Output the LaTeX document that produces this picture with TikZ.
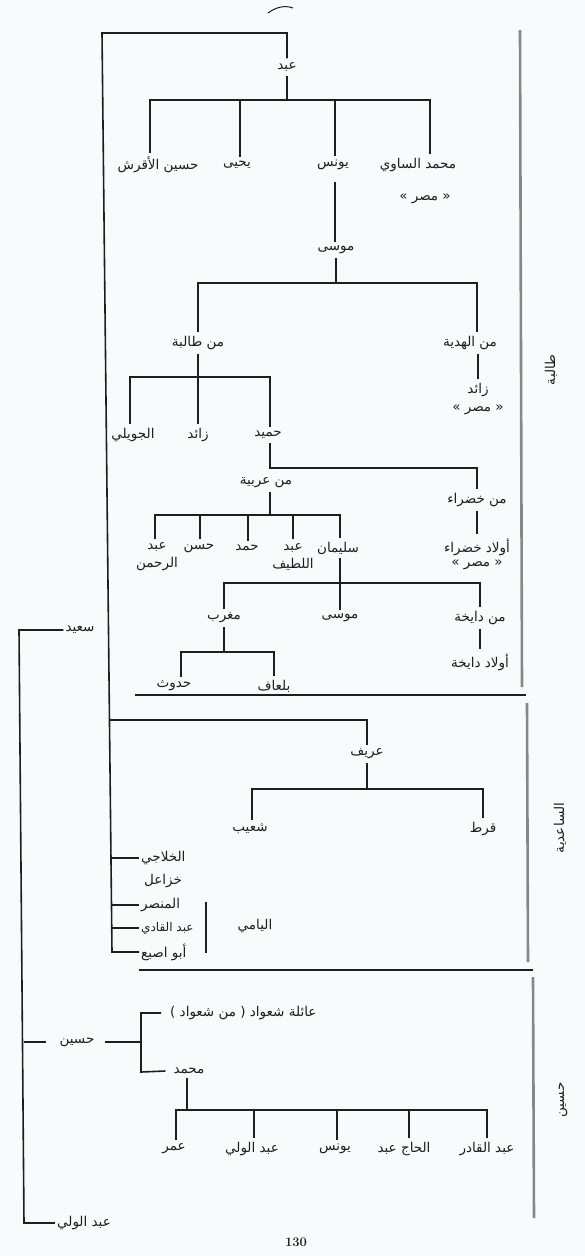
\documentclass[tikz,border=0pt]{standalone}
\usepackage{fontspec}
\newfontfamily\arabicfont[Script=Arabic]{DejaVu Sans}
\newfontfamily\punct{DejaVu Sans}
\TeXXeTstate=1
\newcommand{\artx}[1]{\beginR #1\endR}
\definecolor{ink}{RGB}{30,30,30}
\definecolor{bgc}{RGB}{247,251,252}
\definecolor{sidegray}{RGB}{135,135,135}
\begin{document}
\begin{tikzpicture}[x=1pt,y=-1pt,
  nm/.style={font=\arabicfont\fontsize{13.5}{16}\selectfont, inner xsep=2pt, inner ysep=4pt, text=ink, align=center},
  ln/.style={draw=ink, line width=1.6pt},
  sideln/.style={draw=sidegray, line width=2.6pt},
  divln/.style={draw=ink, line width=2.2pt}]
\useasboundingbox[fill=bgc] (0,0) rectangle (585,1256);

% ---------- nodes: top section ----------
\node[nm] (abd) at (287,67) {\artx{عبد}};
\node[nm] (c1) at (158,165) {\artx{حسين الأقرش}};
\node[nm] (c2) at (237,165) {\artx{يحيى}};
\node[nm] (c3) at (333,165) {\artx{يونس}};
\node[nm] (c4) at (418,165) {\artx{محمد الساوي}};
\node[nm] (m1) at (425,199) {{\punct«} \artx{مصر} {\punct»}};
\node[nm] (musa) at (336,250) {\artx{موسى}};
\node[nm] (taliba) at (198,343) {\artx{من طالبة}};
\node[nm] (hadiya) at (470,343) {\artx{من الهدية}};
\node[nm] (zaid1) at (478,390) {\artx{زائد}};
\node[nm] (m2) at (478,410) {{\punct«} \artx{مصر} {\punct»}};
\node[nm] (juwayli) at (133,435) {\artx{الجويلي}};
\node[nm] (zaid2) at (198,435) {\artx{زائد}};
\node[nm] (hamid) at (268,435) {\artx{حميد}};
\node[nm] (arabiya) at (266,483) {\artx{من عربية}};
\node[nm] (khadra) at (477,500) {\artx{من خضراء}};
\node[nm] (g1) at (157,557) {\artx{عبد}\\[2pt]\artx{الرحمن}};
\node[nm] (g2) at (199,548) {\artx{حسن}};
\node[nm] (g3) at (247,548) {\artx{حمد}};
\node[nm] (g4) at (293,557) {\artx{عبد}\\[2pt]\artx{اللطيف}};
\node[nm] (g5) at (338,548) {\artx{سليمان}};
\node[nm] (awk) at (477,547) {\artx{أولاد خضراء}};
\node[nm] (m3) at (477,565) {{\punct«} \artx{مصر} {\punct»}};
\node[nm] (maghrib) at (224,618) {\artx{مغرب}};
\node[nm] (musa2) at (340,618) {\artx{موسى}};
\node[nm] (dayikha) at (480,618) {\artx{من دايخة}};
\node[nm] (awd) at (480,662) {\artx{أولاد دايخة}};
\node[nm] (haduth) at (174,686) {\artx{حدوث}};
\node[nm] (balaaf) at (274,686) {\artx{بلعاف}};
\node[nm] (said) at (80,630) {\artx{سعيد}};

% ---------- nodes: middle section ----------
\node[nm] (areef) at (367,754) {\artx{عريف}};
\node[nm] (shuayb) at (250,829) {\artx{شعيب}};
\node[nm] (qurt) at (483,829) {\artx{قرط}};
\node[nm,anchor=west] (khalaji) at (139,858) {\artx{الخلاجي}};
\node[nm,anchor=west] (khuzail) at (142,881) {\artx{خزاعل}};
\node[nm,anchor=west] (mansar) at (139,905) {\artx{المنصر}};
\node[nm,anchor=west,font=\arabicfont\fontsize{12}{14}\selectfont] (abdqadi) at (139,928) {\artx{عبد القادي}};
\node[nm,anchor=west] (abuasba) at (139,952) {\artx{أبو اصبع}};
\node[nm] (yami) at (255,926) {\artx{اليامي}};

% ---------- nodes: bottom section ----------
\node[nm,anchor=west] (shawad) at (168,1013) {{\punct(} \artx{من شعواد} {\punct)} \artx{عائلة شعواد}};
\node[nm] (husayn) at (77,1042) {\artx{حسين}};
\node[nm] (muhammad) at (189,1071) {\artx{محمد}};
\node[nm] (k1) at (174,1149) {\artx{عمر}};
\node[nm] (k2) at (252,1149) {\artx{عبد الولي}};
\node[nm] (k3) at (335,1149) {\artx{يونس}};
\node[nm] (k4) at (404,1149) {\artx{الحاج عبد}};
\node[nm] (k5) at (487,1149) {\artx{عبد القادر}};
\node[nm] (wali) at (84,1223) {\artx{عبد الولي}};
\node[font=\fontsize{13}{15}\selectfont\bfseries, text=ink] (page) at (296,1242) {130};

% ---------- side labels ----------
\node[nm, rotate=90] (s1) at (551,370) {\artx{طالبة}};
\node[nm, rotate=90] (s2) at (560,828) {\artx{الساعدية}};
\node[nm, rotate=90] (s3) at (563,1100) {\artx{حسين}};

% ---------- coordinates ----------
\coordinate (ltop) at (102,33);
\coordinate (lbot) at (112,952);
\coordinate (jar) at (109.5,720);
\coordinate (b1) at (287,100);
\coordinate (b2) at (336,283);
\coordinate (b3) at (198,377);
\coordinate (j4) at (270,468);
\coordinate (b5) at (270,515);
\coordinate (b6) at (340,583);
\coordinate (b7) at (224,652);
\coordinate (b9) at (367,789);
\coordinate (fl1) at (19,630);
\coordinate (fl2) at (24,1223);
\coordinate (hd1) at (23.5,1042);
\coordinate (hd2) at (46,1042);
\coordinate (brb) at (141,1072);
\coordinate (b8) at (187,1110);

% ---------- connectors ----------
\draw[ln] (abd.north) |- (ltop) -- (lbot) -- (abuasba.west);
\draw[ln] (abd.south) -- (b1);
\draw[ln] ([xshift=-8pt]c1.north) |- (b1) -| ([xshift=12pt]c4.north);
\draw[ln] ([xshift=3pt]c2.north) -- ([xshift=3pt]c2.north |- b1);
\draw[ln] ([xshift=2pt]c3.north) -- ([xshift=2pt]c3.north |- b1);
\draw[ln] ([xshift=2pt,yshift=-8pt]c3.south) -- ([xshift=-1pt]musa.north);
\draw[ln] (musa.south) -- (b2);
\draw[ln] (taliba.north) |- (b2) -| ([xshift=7pt]hadiya.north);
\draw[ln] (zaid1.north |- hadiya.south) -- (zaid1.north);
\draw[ln] (taliba.south) -- (zaid2.north);
\draw[ln] ([xshift=-3pt]juwayli.north) |- (b3) -| ([xshift=2pt]hamid.north);
\draw[ln] ([xshift=2pt]hamid.south) -- (j4) -| (khadra.north);
\draw[ln] (arabiya.south -| b5) -- (b5);
\draw[ln] ([xshift=-2pt]g1.north) |- (b5) -| ([xshift=2pt]g5.north);
\draw[ln] ([xshift=1pt]g2.north) -- ([xshift=1pt]g2.north |- b5);
\draw[ln] ([xshift=1pt]g3.north) -- ([xshift=1pt]g3.north |- b5);
\draw[ln] (g4.north) -- (g4.north |- b5);
\draw[ln] (khadra.south) -- (awk.north);
\draw[ln] ([xshift=2pt]g5.south) -- (musa2.north);
\draw[ln] (maghrib.north) |- (b6) -| (dayikha.north);
\draw[ln] (dayikha.south) -- (awd.north);
\draw[ln] (maghrib.south) -- (b7);
\draw[ln] ([xshift=7pt]haduth.north) |- (b7) -| (balaaf.north);
\draw[ln] (said.west) -- (fl1) -- (fl2) -- (wali.west);
\draw[ln] (jar) -| (areef.north);
\draw[ln] (areef.south) -- (b9);
\draw[ln] ([xshift=2pt]shuayb.north) |- (b9) -| (qurt.north);
\draw[ln] (111,858) -- (khalaji.west);
\draw[ln] (111.5,905) -- (mansar.west);
\draw[ln] (111.7,928) -- (abdqadi.west);
\draw[ln, line width=2.2pt] (206,902) -- (206,953);
\draw[ln] (hd1) -- (hd2);
\draw[ln] ([xshift=8pt]husayn.east) -- (brb |- husayn.east);
\draw[ln] ([xshift=-7pt]shawad.west) -| (brb) -- ([xshift=-6pt]muhammad.west);
\draw[ln] ([xshift=-2pt]muhammad.south) -- (b8);
\draw[ln] ([xshift=2pt]k1.north) |- (b8) -| (k5.north);
\draw[ln] ([xshift=2pt]k2.north) -- ([xshift=2pt]k2.north |- b8);
\draw[ln] ([xshift=2pt]k3.north) -- ([xshift=2pt]k3.north |- b8);
\draw[ln] ([xshift=5pt]k4.north) -- ([xshift=5pt]k4.north |- b8);

% ---------- section rules ----------
\draw[divln] (135,695) -- (526,695);
\draw[divln] (139,970) -- (533,970);
\draw[sideln] (520,30) -- (522,687);
\draw[sideln] (527,703) -- (528,962);
\draw[sideln] (533,977) -- (534,1218);

% ---------- top mark ----------
\draw[ink, line width=1pt] (268,13) .. controls (276,7) and (285,5) .. (293,8);
\end{tikzpicture}
\end{document}
